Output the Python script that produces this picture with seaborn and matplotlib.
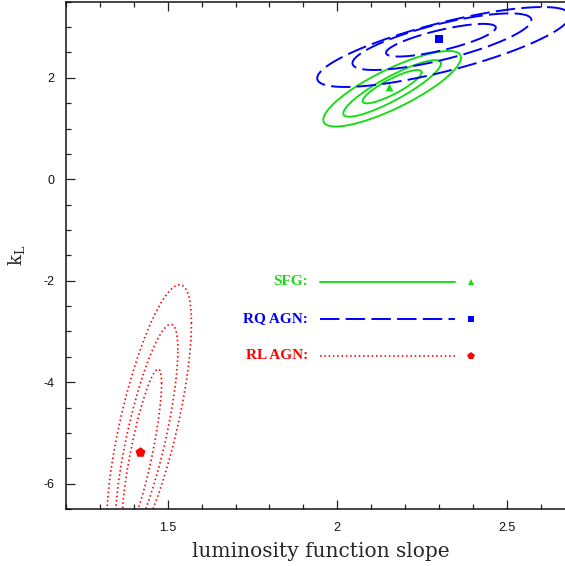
import numpy as np
import pandas as pd
import matplotlib
matplotlib.use('Agg')
import matplotlib.pyplot as plt
import matplotlib.ticker as mticker
import seaborn as sns

sns.set_style('ticks')
plt.rcParams['font.family'] = ['Liberation Sans', 'DejaVu Sans']
plt.rcParams['axes.unicode_minus'] = False
plt.rcParams['lines.scale_dashes'] = False
plt.rcParams['mathtext.fontset'] = 'dejavuserif'

# populations
groups = ['SFG', 'RQ AGN', 'RL AGN']
colors = ['#12dd12', '#0000ff', '#ff0000']
markers = ['^', 's', 'p']

# best-fit points (slope, k_L)
best_slope = [2.153, 2.300, 1.418]
best_k = [1.827, 2.765, -5.378]

# confidence contours (inner, middle, outer): centre, half extent in x / y, correlation
sfg_cx = [2.162, 2.162, 2.162]
sfg_cy = [1.825, 1.790, 1.784]
sfg_hx = [0.087, 0.144, 0.203]
sfg_hy = [0.329, 0.558, 0.745]
sfg_rho = [0.86, 0.88, 0.82]

rq_cx = [2.306, 2.309, 2.314]
rq_cy = [2.741, 2.712, 2.607]
rq_hx = [0.162, 0.264, 0.373]
rq_hy = [0.322, 0.558, 0.788]
rq_rho = [0.77, 0.76, 0.78]

rl_cx = [1.424, 1.438, 1.445]
rl_cy = [-5.35, -5.05, -4.80]
rl_hx = [0.058, 0.092, 0.125]
rl_hy = [1.607, 2.190, 2.720]
rl_rho = [0.823, 0.77, 0.72]

contours = {
    'SFG': (sfg_cx, sfg_cy, sfg_hx, sfg_hy, sfg_rho),
    'RQ AGN': (rq_cx, rq_cy, rq_hx, rq_hy, rq_rho),
    'RL AGN': (rl_cx, rl_cy, rl_hx, rl_hy, rl_rho),
}
line_styles = ['-', (0, (14, 4.5)), (0, (1.1, 2.0))]
line_widths = [1.35, 1.4, 1.2]


def outline(cx, cy, hx, hy, rho, n=241):
    t = np.linspace(0, 2 * np.pi, n)
    x = cx + hx * np.cos(t)
    y = cy + hy * (rho * np.cos(t) + np.sqrt(1 - rho ** 2) * np.sin(t))
    return x, y


fig = plt.figure(figsize=(5.65, 5.66), dpi=100)
ax = fig.add_axes([66 / 565, 57 / 566, 499 / 565, 507.3 / 566])

for i, g in enumerate(groups):
    cx, cy, hx, hy, rho = contours[g]
    for j in range(len(cx)):
        xs, ys = outline(cx[j], cy[j], hx[j], hy[j], rho[j])
        df = pd.DataFrame({'slope': xs, 'k': ys})
        sns.lineplot(data=df, x='slope', y='k', sort=False, estimator=None,
                     color=colors[i], linestyle=line_styles[i],
                     lw=line_widths[i], dash_capstyle='butt', ax=ax)

marker_sizes = [32, 38, 58]
for i, g in enumerate(groups):
    sns.scatterplot(x=[best_slope[i]], y=[best_k[i]], marker=markers[i],
                    color=colors[i], s=marker_sizes[i], linewidth=0, ax=ax)

# hand-made key
key_y = [0.4475, 0.3745, 0.3016]
key_ms = [4.5, 4.5, 5.5]
for i, g in enumerate(groups):
    ax.text(0.485, key_y[i], g + ':', transform=ax.transAxes, ha='right',
            va='center', color=colors[i], fontsize=11, fontweight='bold',
            family='Liberation Serif')
    ax.plot([0.509, 0.780], [key_y[i], key_y[i]], transform=ax.transAxes,
            color=colors[i], linestyle=line_styles[i], lw=line_widths[i],
            dash_capstyle='butt')
    ax.plot([0.812], [key_y[i]], transform=ax.transAxes, marker=markers[i],
            color=colors[i], ms=key_ms[i], mew=0, linestyle='none')

ax.set_xlim(1.2, 1.2 + 499 / 339)
ax.set_ylim(-6.5, 3.5)
ax.xaxis.set_major_locator(mticker.MultipleLocator(0.5))
ax.xaxis.set_minor_locator(mticker.MultipleLocator(0.1))
ax.yaxis.set_major_locator(mticker.MultipleLocator(2))
ax.yaxis.set_minor_locator(mticker.MultipleLocator(0.5))
ax.xaxis.set_major_formatter(mticker.FuncFormatter(lambda v, p: '%g' % v))
ax.yaxis.set_major_formatter(mticker.FuncFormatter(lambda v, p: '%g' % v))

ax.tick_params(which='both', direction='in', top=True, right=False,
               color='#222222', width=0.9, labelsize=9, labelcolor='#111111')
ax.tick_params(which='major', length=6.3)
ax.tick_params(which='minor', length=3.4)
ax.tick_params(axis='x', which='major', pad=9.5)
ax.tick_params(axis='y', which='major', pad=8.4)
ax.spines['right'].set_visible(False)
for s in ax.spines.values():
    s.set_linewidth(1.1)
    s.set_color('#111111')

ax.set_xlabel('luminosity function slope', family='DejaVu Serif', fontsize=14.5)
ax.set_ylabel(r'k$_{\rm L}$', family='DejaVu Serif', fontsize=13)
ax.xaxis.set_label_coords(0.51, -0.0645)
ax.yaxis.set_label_coords(-0.078, 0.5)

fig.savefig('out.png', dpi=100)
